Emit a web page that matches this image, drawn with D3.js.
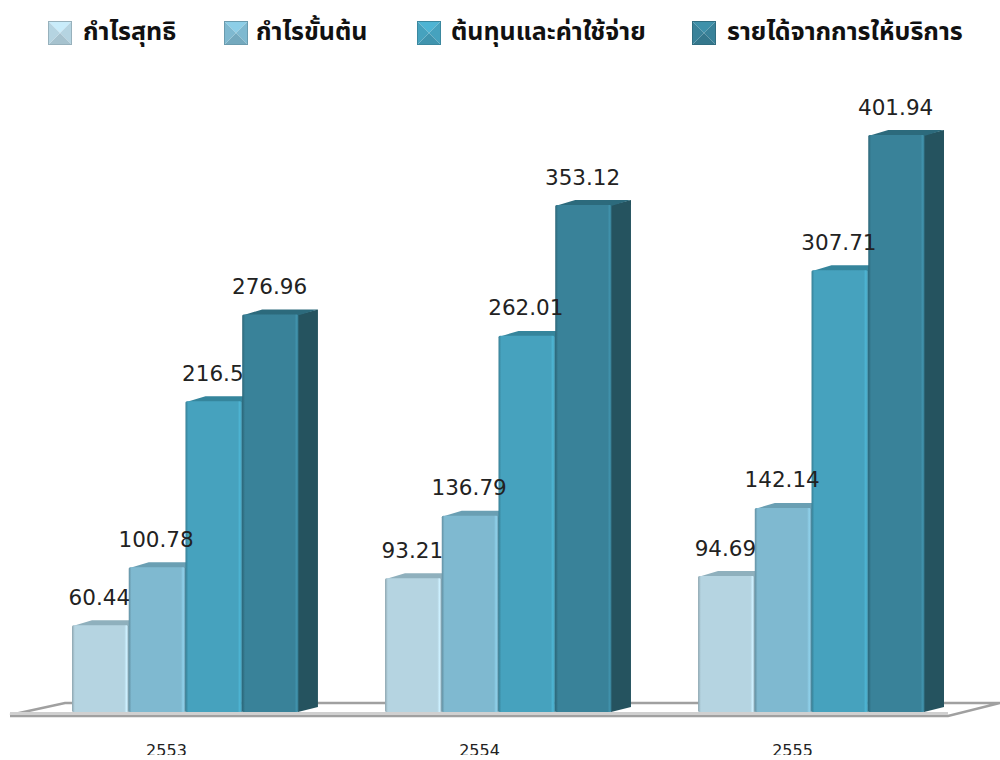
<!DOCTYPE html>
<html>
<head>
<meta charset="utf-8">
<script src="https://cdn.jsdelivr.net/npm/d3@7"></script>
<style>
  html, body { margin: 0; background: #fff; }
  svg { display: block; }
</style>
</head>
<body>
<div id="chart"></div>
<script>
const years = ["2553", "2554", "2555"];
const seriesNames = ["กำไรสุทธิ", "กำไรขั้นต้น", "ต้นทุนและค่าใช้จ่าย", "รายได้จากการให้บริการ"];
const netProfit = [60.44, 93.21, 94.69];
const grossProfit = [100.78, 136.79, 142.14];
const costs = [216.5, 262.01, 307.71];
const revenue = [276.96, 353.12, 401.94];
const seriesValues = [netProfit, grossProfit, costs, revenue];
const labelText = [
  ["60.44", "93.21", "94.69"],
  ["100.78", "136.79", "142.14"],
  ["216.5", "262.01", "307.71"],
  ["276.96", "353.12", "401.94"],
];
const frontColors = ["#b5d4e1", "#7fb9d0", "#46a2be", "#398299"];
const sideColors = ["#7fa0ad", "#5a8fa3", "#2f7a91", "#25535f"];
const topColors = ["#8fb0bd", "#6a9fb3", "#35859c", "#2c6a7c"];
const legendX = [48, 224, 417, 692];
const legendTextX = [83, 256, 451, 727];

const W = 1000, H = 760;
const depthX = 20, depthY = 5;
const svg = d3.select("#chart").append("svg").attr("width", W).attr("height", H);
const defs = svg.append("defs");

const x0 = d3.scaleBand().domain(years).range([72, 925]).paddingInner(0.275).paddingOuter(0);
const x1 = d3.scaleBand().domain(d3.range(4)).range([0, x0.bandwidth()]);
const y = d3.scaleLinear().domain([0, 401.94]).range([712, 135]);

// front face shading, dark on the left edge and light on the right
frontColors.forEach((c, i) => {
  const g = defs.append("linearGradient").attr("id", "front" + i);
  const stops = [
    [0, d3.color(c).darker(0.7)],
    [0.05, c],
    [0.93, c],
    [0.97, d3.color(c).brighter(0.35)],
    [1, d3.color(c).darker(0.3)],
  ];
  stops.forEach(s => g.append("stop").attr("offset", s[0]).attr("stop-color", s[1]));
});

// floor
const floor = svg.append("g");
floor.append("path")
  .attr("d", d3.line()([[10, 715], [65, 703], [1000, 703], [948, 716], [10, 716]]))
  .attr("fill", "#fff")
  .attr("stroke", "#a0a0a0")
  .attr("stroke-width", 2.5);
floor.append("rect").attr("x", 10).attr("y", 712).attr("width", 938).attr("height", 3).attr("fill", "#d0d0d0");
floor.append("rect").attr("x", 10).attr("y", 715).attr("width", 938).attr("height", 2).attr("fill", "#a0a0a0");

// bars, one group per year
const line = d3.line();
const groups = svg.selectAll("g.year").data(years).join("g")
  .attr("class", "year")
  .attr("transform", d => `translate(${x0(d)},0)`);

seriesValues.forEach((vals, s) => {
  const bw = x1.bandwidth();
  const xs = x1(s);
  groups.append("path")
    .attr("fill", sideColors[s])
    .attr("d", (d, i) => line([
      [xs + bw - 1, y(vals[i])],
      [xs + bw - 1 + depthX, y(vals[i]) - depthY],
      [xs + bw - 1 + depthX, y(0) - depthY],
      [xs + bw - 1, y(0)],
    ]));
  groups.append("path")
    .attr("fill", topColors[s])
    .attr("d", (d, i) => line([
      [xs, y(vals[i]) + 1],
      [xs + depthX, y(vals[i]) - depthY],
      [xs + bw - 1 + depthX, y(vals[i]) - depthY],
      [xs + bw - 1, y(vals[i]) + 1],
    ]));
  groups.append("rect")
    .attr("x", xs)
    .attr("y", (d, i) => y(vals[i]))
    .attr("width", bw - 0.5)
    .attr("height", (d, i) => y(0) - y(vals[i]))
    .attr("rx", 1.5)
    .attr("fill", `url(#front${s})`);
});

// value labels go on top of everything
seriesValues.forEach((vals, s) => {
  groups.append("text")
    .attr("x", x1(s) + x1.bandwidth() / 2 - 1)
    .attr("y", (d, i) => y(vals[i]) - 20.5)
    .attr("text-anchor", "middle")
    .attr("font-family", "'DejaVu Sans', sans-serif")
    .attr("font-size", 21.5)
    .attr("fill", "#222")
    .text((d, i) => labelText[s][i]);
});

// x axis, the bottom of the labels is cut off in the picture
defs.append("clipPath").attr("id", "axisClip")
  .append("rect").attr("x", 0).attr("y", 0).attr("width", W).attr("height", 755);
const axisWrap = svg.append("g").attr("clip-path", "url(#axisClip)");
const xAxisG = axisWrap.append("g")
  .attr("transform", "translate(-19,738.5)")
  .call(d3.axisBottom(x0).tickSize(0).tickPadding(6));
xAxisG.select(".domain").remove();
xAxisG.selectAll("text")
  .attr("font-family", "'DejaVu Sans', sans-serif")
  .attr("font-size", 16)
  .attr("fill", "#222");

// legend
const legend = svg.selectAll("g.leg").data(seriesNames).join("g").attr("class", "leg");
legend.each(function (name, i) {
  const g = d3.select(this);
  const x = legendX[i], t = 21, s = 24, c = frontColors[i];
  const mx = x + s / 2, my = t + s / 2;
  const tris = [
    [[x, t], [x + s, t], [mx, my], d3.color(c).brighter(0.3)],
    [[x + s, t], [x + s, t + s], [mx, my], c],
    [[x + s, t + s], [x, t + s], [mx, my], d3.color(c).darker(0.25)],
    [[x, t + s], [x, t], [mx, my], c],
  ];
  tris.forEach(p => {
    g.append("path").attr("d", line(p.slice(0, 3)) + "Z").attr("fill", p[3]);
  });
  g.append("rect")
    .attr("x", x + 0.5).attr("y", t + 0.5).attr("width", s - 1).attr("height", s - 1)
    .attr("fill", "none").attr("stroke", d3.color(c).darker(0.5));
  g.append("text")
    .attr("x", legendTextX[i])
    .attr("y", 40)
    .attr("font-family", "'Noto Sans Thai', 'Noto Serif Thai', 'Liberation Serif', 'DejaVu Serif', serif")
    .attr("font-weight", "bold")
    .attr("font-size", 25)
    .attr("fill", "#111")
    .text(name);
});
</script>
</body>
</html>
